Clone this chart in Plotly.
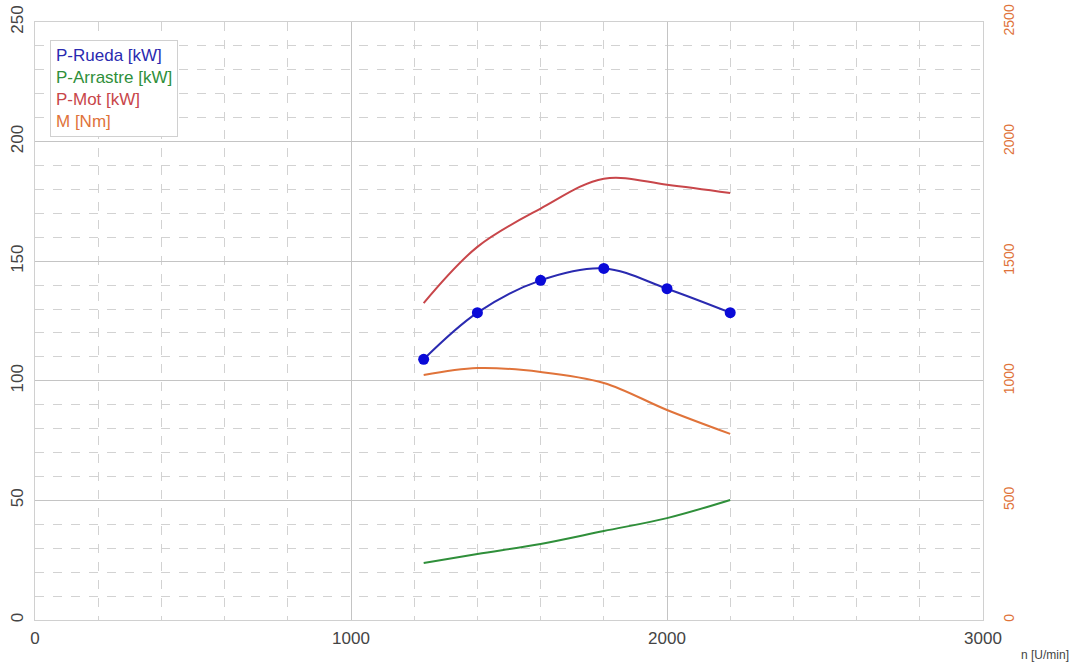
import plotly.graph_objects as go

n_rpm = [1230, 1400, 1600, 1800, 2000, 2200]
p_rueda = [109, 128.5, 142, 147, 138.5, 128.5]
p_arrastre = [23.8, 27.6, 31.8, 37.2, 42.6, 50.2]
p_mot = [132.5, 156, 172, 184.5, 182, 178.5]
m_nm = [1024, 1053, 1037, 991, 878, 778]

x_ticks = [0, 1000, 2000, 3000]
y_ticks = [0, 50, 100, 150, 200, 250]
y2_ticks = [0, 500, 1000, 1500, 2000, 2500]

c_blue = "#2a2ab0"
c_marker = "#0a0ad8"
c_green = "#2f8f3a"
c_red = "#c8464a"
c_orange = "#e0733a"

fig = go.Figure()
fig.add_trace(go.Scatter(x=n_rpm, y=p_mot, mode="lines", line=dict(color=c_red, width=2, shape="spline"), name="P-Mot [kW]"))
fig.add_trace(go.Scatter(x=n_rpm, y=p_rueda, mode="lines+markers", line=dict(color=c_blue, width=2, shape="spline"),
                         marker=dict(color=c_marker, size=11), name="P-Rueda [kW]"))
fig.add_trace(go.Scatter(x=n_rpm, y=p_arrastre, mode="lines", line=dict(color=c_green, width=2, shape="spline"), name="P-Arrastre [kW]"))
fig.add_trace(go.Scatter(x=n_rpm, y=m_nm, mode="lines", line=dict(color=c_orange, width=2, shape="spline"), name="M [Nm]", yaxis="y2"))

grid_major = "#c4c4c4"
grid_minor = "#d2d2d2"
fnt = "Liberation Sans"

fig.update_layout(
    width=1081, height=662,
    margin=dict(l=35, r=98, t=22, b=42),
    paper_bgcolor="white", plot_bgcolor="white",
    showlegend=False,
    font=dict(family=fnt, size=17, color="#444"),
    xaxis=dict(range=[0, 3000], tickvals=x_ticks, ticks="", showgrid=True, gridcolor=grid_major, gridwidth=1,
               minor=dict(dtick=200, showgrid=True, gridcolor=grid_minor, griddash="dash", gridwidth=1),
               showline=True, linecolor="#d0d0d0", mirror=True, zeroline=False, automargin=False,
               ticklabelstandoff=3, ticklabeloverflow="allow", tickfont=dict(size=17, color="#444", family=fnt)),
    yaxis=dict(range=[0, 250], tickvals=y_ticks, ticks="", showgrid=True, gridcolor=grid_major, gridwidth=1,
               minor=dict(dtick=10, showgrid=True, gridcolor=grid_minor, griddash="dash", gridwidth=1),
               showline=True, linecolor="#d0d0d0", mirror=True, zeroline=False, tickangle=-90, automargin=False,
               ticklabelstandoff=4, ticklabeloverflow="allow", tickfont=dict(size=17, color="#444", family=fnt)),
    yaxis2=dict(range=[0, 2500], tickvals=y2_ticks, overlaying="y", side="right", showgrid=False, zeroline=False,
                tickangle=-90, tickfont=dict(size=14, color=c_orange, family=fnt), ticks="", ticklabelstandoff=16,
                ticklabeloverflow="allow", automargin=False),
)

legend_text = (f"<span style='color:{c_blue}'>P-Rueda [kW]</span><br>"
               f"<span style='color:{c_green}'>P-Arrastre [kW]</span><br>"
               f"<span style='color:{c_red}'>P-Mot [kW]</span><br>"
               f"<span style='color:{c_orange}'>M [Nm]</span>")
fig.add_annotation(xref="paper", yref="paper", x=0.0158, y=0.970, xanchor="left", yanchor="top",
                   text=legend_text, showarrow=False, align="left", bgcolor="white",
                   bordercolor="#d0d0d0", borderwidth=1, borderpad=5, font=dict(size=17, family=fnt))
fig.add_annotation(xref="paper", yref="paper", x=1.065, y=-0.0585, xanchor="center", yanchor="middle",
                   text="n [U/min]", showarrow=False, font=dict(size=12, color="#444", family=fnt))

fig.write_html("out.html", config={"displayModeBar": False},
               post_script="document.body.style.margin='0';document.body.style.overflow='hidden';")
